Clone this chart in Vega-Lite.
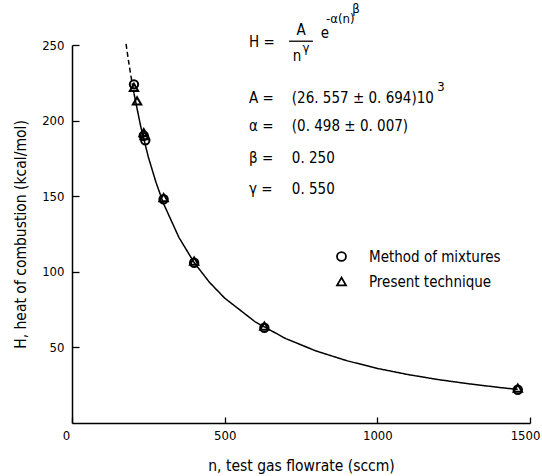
{
  "$schema": "https://vega.github.io/schema/vega-lite/v6.json",
  "autosize": "none",
  "width": 458,
  "height": 378,
  "padding": {"left": 72, "top": 45, "right": 12, "bottom": 53},
  "background": "white",
  "config": {
    "font": "DejaVu Sans Condensed",
    "view": {"stroke": null},
    "axis": {
      "grid": false,
      "labelFlush": false,
      "domainColor": "black",
      "domainWidth": 1.5,
      "tickColor": "black",
      "tickWidth": 1.3,
      "labelColor": "black",
      "titleColor": "black",
      "labelFont": "DejaVu Sans Condensed",
      "titleFont": "DejaVu Sans Condensed",
      "labelFontSize": 13,
      "titleFontSize": 15.5,
      "titleFontWeight": "normal"
    }
  },
  "datasets": {
    "points": [
      {"n": 203, "H": 224, "method": "Method of mixtures"},
      {"n": 235, "H": 190, "method": "Method of mixtures"},
      {"n": 240, "H": 187, "method": "Method of mixtures"},
      {"n": 300, "H": 148, "method": "Method of mixtures"},
      {"n": 400, "H": 106, "method": "Method of mixtures"},
      {"n": 630, "H": 63, "method": "Method of mixtures"},
      {"n": 1460, "H": 22, "method": "Method of mixtures"},
      {"n": 203, "H": 222, "method": "Present technique"},
      {"n": 213, "H": 213, "method": "Present technique"},
      {"n": 235, "H": 192, "method": "Present technique"},
      {"n": 238, "H": 190, "method": "Present technique"},
      {"n": 300, "H": 149, "method": "Present technique"},
      {"n": 400, "H": 107, "method": "Present technique"},
      {"n": 630, "H": 64, "method": "Present technique"},
      {"n": 1460, "H": 23, "method": "Present technique"}
    ],
    "curve": [
      {"n": 177, "H": 250.7, "part": "extrapolated"},
      {"n": 185, "H": 239.6, "part": "extrapolated"},
      {"n": 193, "H": 229.5, "part": "extrapolated"},
      {"n": 203, "H": 218.0, "part": "extrapolated"},
      {"n": 203, "H": 218.0, "part": "fit"},
      {"n": 225, "H": 196.2, "part": "fit"},
      {"n": 250, "H": 175.9, "part": "fit"},
      {"n": 275, "H": 159.2, "part": "fit"},
      {"n": 300, "H": 145.0, "part": "fit"},
      {"n": 350, "H": 122.8, "part": "fit"},
      {"n": 400, "H": 106.1, "part": "fit"},
      {"n": 450, "H": 93.1, "part": "fit"},
      {"n": 500, "H": 82.6, "part": "fit"},
      {"n": 600, "H": 66.9, "part": "fit"},
      {"n": 700, "H": 55.8, "part": "fit"},
      {"n": 800, "H": 47.6, "part": "fit"},
      {"n": 900, "H": 41.2, "part": "fit"},
      {"n": 1000, "H": 36.1, "part": "fit"},
      {"n": 1100, "H": 32.05, "part": "fit"},
      {"n": 1200, "H": 28.7, "part": "fit"},
      {"n": 1300, "H": 25.9, "part": "fit"},
      {"n": 1400, "H": 23.5, "part": "fit"},
      {"n": 1460, "H": 22.2, "part": "fit"}
    ],
    "labels": [
      {"n": 580, "H": 252, "text": "H =", "align": "left", "size": "big"},
      {"n": 750, "H": 260, "text": "A", "align": "center", "size": "big"},
      {"n": 737, "H": 243, "text": "n", "align": "center", "size": "big"},
      {"n": 755, "H": 248, "text": "γ", "align": "left", "size": "small"},
      {"n": 815, "H": 258, "text": "e", "align": "left", "size": "big"},
      {"n": 832, "H": 267, "text": "-α(n)", "align": "left", "size": "small"},
      {"n": 918, "H": 274, "text": "β", "align": "left", "size": "small"},
      {"n": 580, "H": 215, "text": "A =", "align": "left", "size": "big"},
      {"n": 720, "H": 215, "text": "(26. 557 ± 0. 694)10", "align": "left", "size": "big"},
      {"n": 1196, "H": 222, "text": "3", "align": "left", "size": "small"},
      {"n": 580, "H": 196.4, "text": "α =", "align": "left", "size": "big"},
      {"n": 720, "H": 196.4, "text": "(0. 498 ± 0. 007)", "align": "left", "size": "big"},
      {"n": 580, "H": 175.5, "text": "β =", "align": "left", "size": "big"},
      {"n": 720, "H": 175.5, "text": "0. 250", "align": "left", "size": "big"},
      {"n": 580, "H": 155, "text": "γ =", "align": "left", "size": "big"},
      {"n": 720, "H": 155, "text": "0. 550", "align": "left", "size": "big"}
    ],
    "fracline": [
      {"n": 711, "n2": 789, "H": 252.5}
    ]
  },
  "layer": [
    {
      "data": {"name": "curve"},
      "mark": {"type": "line", "color": "black", "strokeWidth": 1.5},
      "encoding": {
        "x": {
          "field": "n", "type": "quantitative",
          "scale": {"domain": [0, 1500], "nice": false},
          "axis": {
            "values": [0, 500, 1000, 1500],
            "format": "d",
            "tickSize": -6,
            "labelPadding": 12,
            "labelOffset": {"condition": [{"test": "datum.value == 0", "value": -6}, {"test": "datum.value == 1500", "value": -5}], "value": 0},
            "title": "n, test gas flowrate  (sccm)",
            "titlePadding": 16
          }
        },
        "y": {
          "field": "H", "type": "quantitative",
          "scale": {"domain": [0, 250], "nice": false},
          "axis": {
            "values": [50, 100, 150, 200, 250],
            "tickSize": -7,
            "labelPadding": 15,
            "title": "H, heat of combustion (kcal/mol)",
            "titleX": -44,
            "titleY": 189
          }
        },
        "strokeDash": {
          "field": "part", "type": "nominal",
          "scale": {"domain": ["fit", "extrapolated"], "range": [[1, 0], [5, 3]]},
          "legend": null
        }
      }
    },
    {
      "data": {"name": "points"},
      "mark": {"type": "point", "filled": false, "color": "black", "strokeWidth": 2, "size": 70, "opacity": 1},
      "encoding": {
        "x": {"field": "n", "type": "quantitative"},
        "y": {"field": "H", "type": "quantitative"},
        "shape": {
          "field": "method", "type": "nominal",
          "scale": {"domain": ["Method of mixtures", "Present technique"], "range": ["circle", "triangle-up"]},
          "legend": {
            "title": null,
            "orient": "none",
            "legendX": 262,
            "legendY": 204,
            "padding": 0,
            "labelFont": "DejaVu Sans Condensed",
            "labelFontSize": 15,
            "labelColor": "black",
            "labelOffset": 20,
            "rowPadding": 9,
            "symbolStrokeColor": "black",
            "symbolStrokeWidth": 1.8,
            "symbolFillColor": "transparent",
            "symbolSize": 80
          }
        }
      }
    },
    {
      "data": {"name": "fracline"},
      "mark": {"type": "rule", "color": "black", "strokeWidth": 1.3},
      "encoding": {
        "x": {"field": "n", "type": "quantitative"},
        "x2": {"field": "n2"},
        "y": {"field": "H", "type": "quantitative"}
      }
    },
    {
      "data": {"name": "labels"},
      "transform": [{"filter": "datum.size == 'big' && datum.align == 'left'"}],
      "mark": {"type": "text", "align": "left", "baseline": "middle", "fontSize": 15, "color": "black", "font": "DejaVu Sans Condensed"},
      "encoding": {
        "x": {"field": "n", "type": "quantitative"},
        "y": {"field": "H", "type": "quantitative"},
        "text": {"field": "text"}
      }
    },
    {
      "data": {"name": "labels"},
      "transform": [{"filter": "datum.size == 'big' && datum.align == 'center'"}],
      "mark": {"type": "text", "align": "center", "baseline": "middle", "fontSize": 15, "color": "black", "font": "DejaVu Sans Condensed"},
      "encoding": {
        "x": {"field": "n", "type": "quantitative"},
        "y": {"field": "H", "type": "quantitative"},
        "text": {"field": "text"}
      }
    },
    {
      "data": {"name": "labels"},
      "transform": [{"filter": "datum.size == 'small'"}],
      "mark": {"type": "text", "align": "left", "baseline": "middle", "fontSize": 13, "color": "black", "font": "DejaVu Sans Condensed"},
      "encoding": {
        "x": {"field": "n", "type": "quantitative"},
        "y": {"field": "H", "type": "quantitative"},
        "text": {"field": "text"}
      }
    }
  ]
}
